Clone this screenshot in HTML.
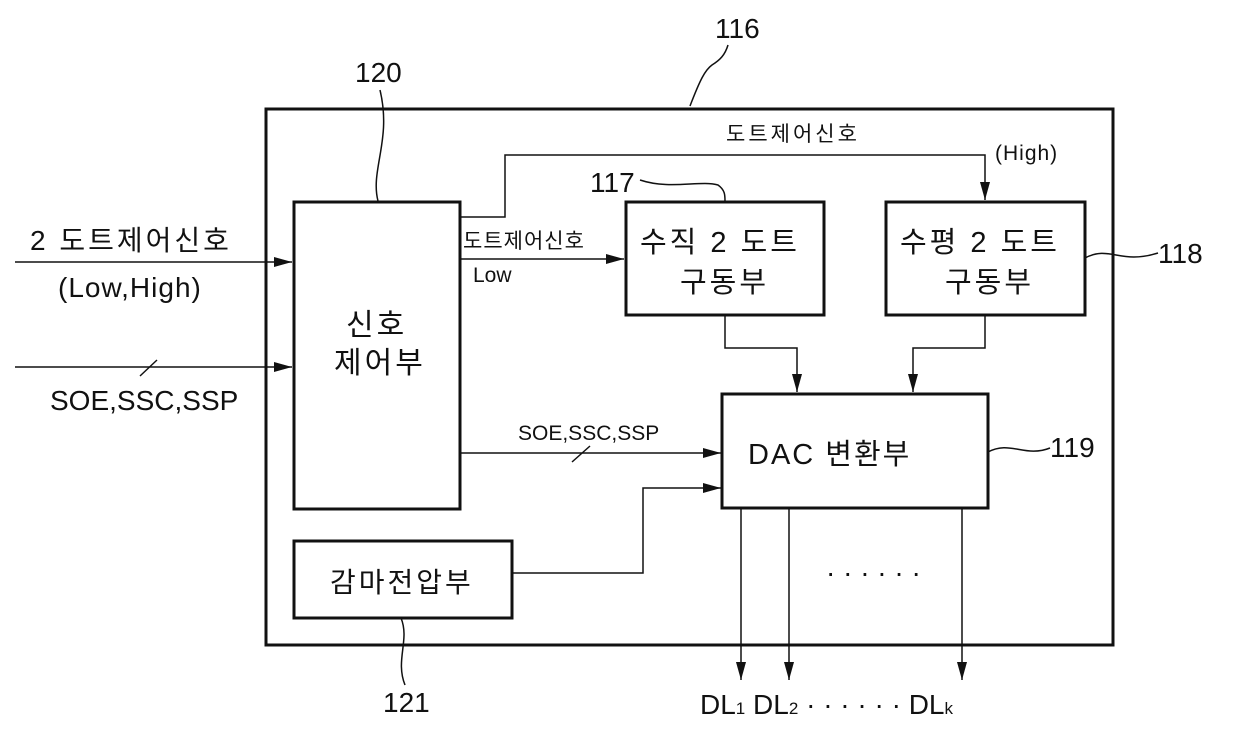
<!DOCTYPE html>
<html><head><meta charset="utf-8"><style>
body{margin:0;background:#fff}
svg text{font-family:"Liberation Sans","Noto Sans CJK KR",sans-serif;fill:#111}
</style></head><body>
<svg width="1240" height="729" viewBox="0 0 1240 729" xmlns="http://www.w3.org/2000/svg">
<defs><marker id="a" markerWidth="18" markerHeight="10" refX="18" refY="5" orient="auto" markerUnits="userSpaceOnUse"><path d="M0,0 L18,5 L0,10 z" fill="#111"/></marker></defs>
<g fill="none" stroke="#111">
<rect x="266" y="109" width="847" height="536" stroke-width="3"/>
<rect x="294" y="202" width="166" height="307" stroke-width="3"/>
<rect x="626" y="202" width="198" height="113" stroke-width="3"/>
<rect x="886" y="202" width="199" height="113" stroke-width="3"/>
<rect x="722" y="394" width="266" height="114" stroke-width="3"/>
<rect x="294" y="541" width="218" height="77" stroke-width="3"/>
<g stroke-width="1.5">
<path d="M15 262 H292" marker-end="url(#a)"/>
<path d="M15 367 H292" marker-end="url(#a)"/>
<path d="M140 376 L157 360"/>
<path d="M460 217 H505 V155 H985 V200" marker-end="url(#a)"/>
<path d="M460 259 H624" marker-end="url(#a)"/>
<path d="M725 315 V348 H797 V392" marker-end="url(#a)"/>
<path d="M985 315 V348 H913 V392" marker-end="url(#a)"/>
<path d="M460 453 H721" marker-end="url(#a)"/>
<path d="M572 462 L590 446"/>
<path d="M512 573 H643 V488 H721" marker-end="url(#a)"/>
<path d="M741 508 V680" marker-end="url(#a)"/>
<path d="M789 508 V680" marker-end="url(#a)"/>
<path d="M962 508 V680" marker-end="url(#a)"/>
<path d="M690 106 C700 80 705 70 712 65 C720 60 725 55 728 45"/>
<path d="M378 201 C370 170 392 140 380 90"/>
<path d="M640 180 C670 190 700 180 718 185 C725 190 725 195 725 201"/>
<path d="M1085 258 C1110 245 1120 265 1158 253"/>
<path d="M988 452 C1010 440 1025 458 1050 448"/>
<path d="M401 618 C410 640 395 660 405 685"/>
</g></g>
<g font-size="28">
<text x="715" y="38">116</text>
<text x="355" y="82">120</text>
<text x="590" y="192">117</text>
<text x="1158" y="263">118</text>
<text x="1050" y="457">119</text>
<text x="383" y="712">121</text>
</g>
<g font-size="28" letter-spacing="3">
<text x="30" y="250">2 도트제어신호</text>
<text x="58" y="297" letter-spacing="1">(Low,High)</text>
<text x="50" y="410" letter-spacing="0">SOE,SSC,SSP</text>
<text x="346" y="335" font-size="30">신호</text>
<text x="334" y="373" font-size="30">제어부</text>
<text x="640" y="252" font-size="29">수직 2 도트</text>
<text x="680" y="292" font-size="29">구동부</text>
<text x="900" y="252" font-size="29">수평 2 도트</text>
<text x="945" y="292" font-size="29">구동부</text>
<text x="748" y="464" font-size="29" letter-spacing="2">DAC 변환부</text>
<text x="330" y="592">감마전압부</text>
<text x="826" y="582" letter-spacing="0">· · · · · ·</text>
<text x="700" y="714" letter-spacing="0">DL<tspan font-size="17">1</tspan> DL<tspan font-size="17">2</tspan>  · · · · · ·  DL<tspan font-size="17">k</tspan></text>
</g>
<g font-size="21" letter-spacing="3">
<text x="726" y="141">도트제어신호</text>
<text x="995" y="160" letter-spacing="1">(High)</text>
<text x="463" y="248" letter-spacing="1">도트제어신호</text>
<text x="473" y="282" letter-spacing="0">Low</text>
<text x="518" y="440" letter-spacing="0">SOE,SSC,SSP</text>
</g>
</svg>
</body></html>
